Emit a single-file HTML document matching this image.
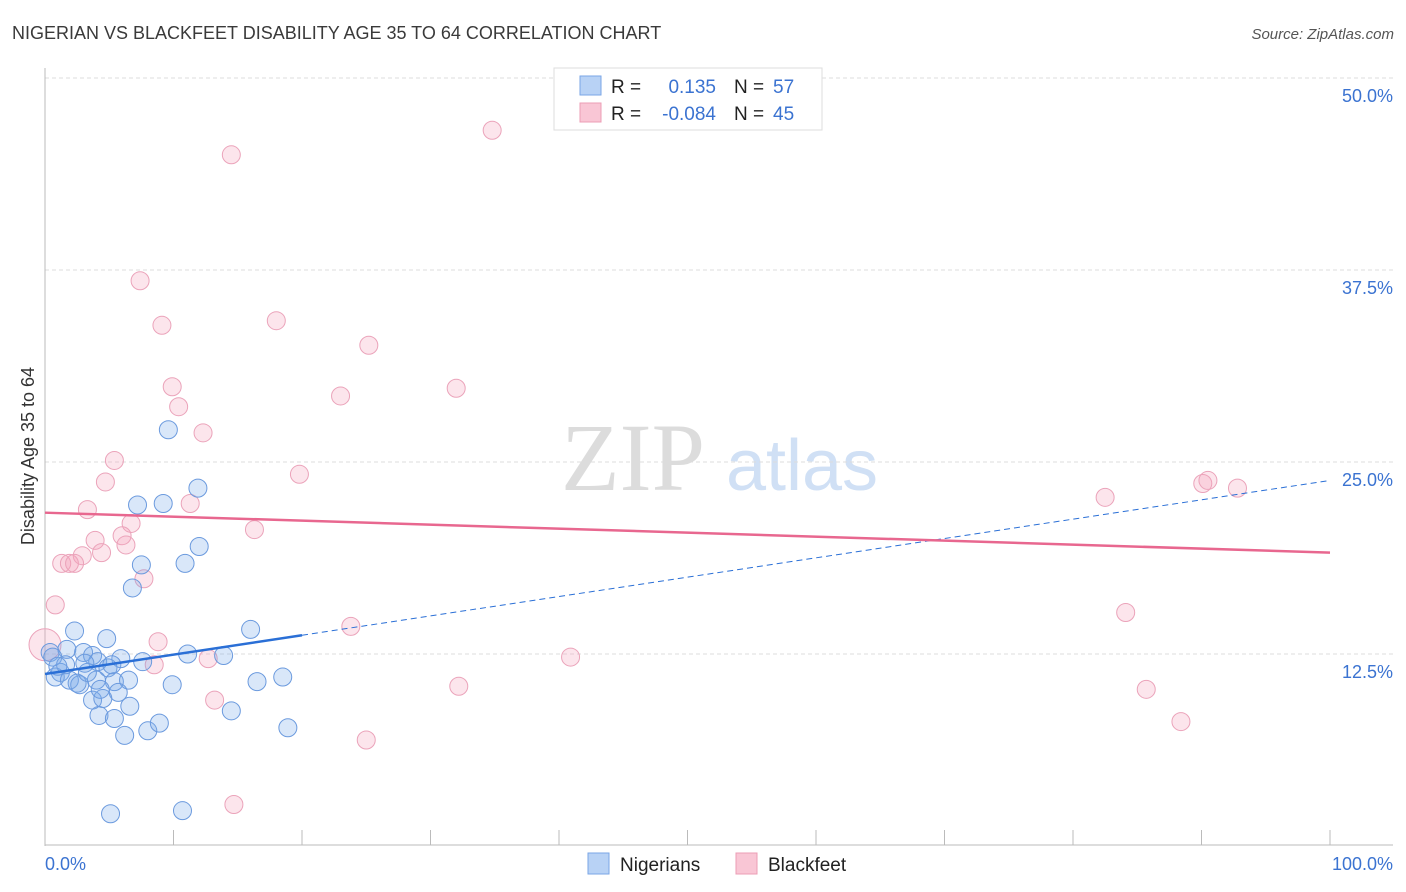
<!DOCTYPE html>
<html><head><meta charset="utf-8"><style>
body{margin:0;background:#fff;font-family:"Liberation Sans",sans-serif;}
svg{display:block}
</style></head><body>
<svg id="chart" width="1406" height="892" xmlns="http://www.w3.org/2000/svg">
<text x="12" y="39" font-size="18" fill="#3a3a3a">NIGERIAN VS BLACKFEET DISABILITY AGE 35 TO 64 CORRELATION CHART</text>
<text x="1394" y="39" font-size="15" fill="#555" font-style="italic" text-anchor="end">Source: ZipAtlas.com</text>
<g>
<text x="633" y="490" font-size="96" fill="#dcdcdc" font-family="Liberation Serif,serif" text-anchor="middle">ZIP</text>
<text x="802" y="490" font-size="72" fill="#d0e0f5" text-anchor="middle">atlas</text>
</g>
<g id="grid"></g>
<g id="axes"></g>
<g id="marks"></g>
<text transform="translate(34,456) rotate(-90)" font-size="18" fill="#333" text-anchor="middle">Disability Age 35 to 64</text>
<text x="45" y="870" font-size="18" fill="#3b73d1">0.0%</text>
<text x="1393" y="870" font-size="18" fill="#3b73d1" text-anchor="end">100.0%</text>
<g>
<rect x="554" y="68" width="268" height="62" fill="#fff" stroke="#ddd"/>
<rect x="580" y="76" width="21" height="19" fill="#b8d2f5" stroke="#7aa6e6"/>
<rect x="580" y="103" width="21" height="19" fill="#f9c6d5" stroke="#ec9db5"/>
<text x="611" y="93" font-size="19" fill="#222">R = </text>
<text x="716" y="93" font-size="19" fill="#3b73d1" text-anchor="end">0.135</text>
<text x="734" y="93" font-size="19" fill="#222">N = </text>
<text x="773" y="93" font-size="19" fill="#3b73d1">57</text>
<text x="611" y="120" font-size="19" fill="#222">R = </text>
<text x="716" y="120" font-size="19" fill="#3b73d1" text-anchor="end">-0.084</text>
<text x="734" y="120" font-size="19" fill="#222">N = </text>
<text x="773" y="120" font-size="19" fill="#3b73d1">45</text>
</g>
<g>
<rect x="588" y="853" width="21" height="21" fill="#b8d2f5" stroke="#7aa6e6"/>
<text x="620" y="871" font-size="19" fill="#222">Nigerians</text>
<rect x="736" y="853" width="21" height="21" fill="#f9c6d5" stroke="#ec9db5"/>
<text x="768" y="871" font-size="19" fill="#222">Blackfeet</text>
</g>
</svg>
<script>
const yTicks=[12.5,25,37.5,50];
const yTickLabels=["12.5%","25.0%","37.5%","50.0%"];
const blueX=[2.3,4.8,1.7,3.0,3.7,4.1,5.9,7.6,11.1,13.9,16.0,1.2,0.8,1.9,2.7,4.0,4.9,5.4,6.5,5.7,3.7,4.5,6.6,4.2,5.4,6.2,8.0,8.9,9.9,14.5,16.5,18.5,18.9,5.1,10.7,0.4,0.6,2.5,3.3,9.6,11.9,7.2,9.2,12.0,10.9,7.5,6.8,1.6,1.0,3.1,5.2,4.3];
const blueY=[14.0,13.5,12.8,12.6,12.4,12.0,12.2,12.0,12.5,12.4,14.1,11.3,11.0,10.8,10.5,10.8,11.6,10.7,10.8,10.0,9.5,9.6,9.1,8.5,8.3,7.2,7.5,8.0,10.5,8.8,10.7,11.0,7.7,2.1,2.3,12.6,12.3,10.6,11.3,27.1,23.3,22.2,22.3,19.5,18.4,18.3,16.8,11.8,11.7,11.9,11.8,10.2];
const pinkX=[34.8,14.5,7.4,9.1,18.0,25.2,9.9,32.0,23.0,10.4,12.3,5.4,19.8,4.7,11.3,3.3,6.7,16.3,6.0,3.9,6.3,4.4,2.9,1.3,1.9,2.3,7.7,0.8,8.8,23.8,12.7,8.5,40.9,32.2,13.2,25.0,14.7,82.5,90.1,90.5,92.8,84.1,85.7,88.4,0];
const pinkY=[46.6,45.0,36.8,33.9,34.2,32.6,29.9,29.8,29.3,28.6,26.9,25.1,24.2,23.7,22.3,21.9,21.0,20.6,20.2,19.9,19.6,19.1,18.9,18.4,18.4,18.4,17.4,15.7,13.3,14.3,12.2,11.8,12.3,10.4,9.5,6.9,2.7,22.7,23.6,23.8,23.3,15.2,10.2,8.1,13.1];
const blueTrend=[11.2,23.8];
const pinkTrend=[21.7,19.1];
const NS="http://www.w3.org/2000/svg";
const X=v=>45+v*12.85;
const Y=v=>846-v*15.36;
function mk(tag,attrs,parent){const e=document.createElementNS(NS,tag);for(const k in attrs)e.setAttribute(k,attrs[k]);parent.appendChild(e);return e;}
const grid=document.getElementById('grid'),axes=document.getElementById('axes'),marks=document.getElementById('marks');
yTicks.forEach((t,i)=>{
 const l=mk('line',{x1:45,x2:1393,y1:Y(t),y2:Y(t),stroke:'#ddd','stroke-dasharray':'4,3'},grid);
 
 
 const tx=mk('text',{x:1393,y:Y(t)+24,'font-size':18,fill:'#3b73d1','text-anchor':'end'},grid);
 tx.textContent=yTickLabels[i];
 
 
});
const ya=mk('line',{x1:45,x2:45,y1:68,y2:846,stroke:'#bbb'},axes);


const xa=mk('line',{x1:45,x2:1393,y1:845,y2:845,stroke:'#bbb'},axes);


for(let k=1;k<=10;k++){const t=mk('line',{x1:X(k*10),x2:X(k*10),y1:830,y2:845,stroke:'#bbb'},axes);
 
 }
pinkX.forEach((x,i)=>{const c=mk('circle',{cx:X(x),cy:Y(pinkY[i]),r:i===pinkX.length-1?16:9,fill:'rgba(244,160,188,0.28)',stroke:'#eba3ba','stroke-width':1},marks);
 
 });
blueX.forEach((x,i)=>{const c=mk('circle',{cx:X(x),cy:Y(blueY[i]),r:9,fill:'rgba(120,168,232,0.28)',stroke:'#6b9ade','stroke-width':1},marks);
 
 });
const bAt=v=>blueTrend[0]+(blueTrend[1]-blueTrend[0])*v/100;
const bs=mk('line',{x1:X(0),y1:Y(bAt(0)),x2:X(20),y2:Y(bAt(20)),stroke:'#2a6fd6','stroke-width':2.5},marks);


const bd=mk('line',{x1:X(20),y1:Y(bAt(20)),x2:X(100),y2:Y(bAt(100)),stroke:'#2a6fd6','stroke-width':1,'stroke-dasharray':'6,4'},marks);


const pl=mk('line',{x1:X(0),y1:Y(pinkTrend[0]),x2:X(100),y2:Y(pinkTrend[1]),stroke:'#e8678f','stroke-width':2.5},marks);


</script>
</body></html>
